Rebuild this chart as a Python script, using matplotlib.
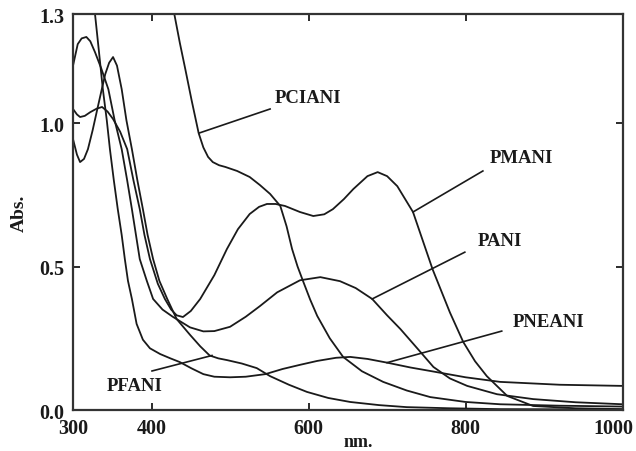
import numpy as np
import matplotlib
matplotlib.use("Agg")
import matplotlib.pyplot as plt
import matplotlib.transforms as mtransforms

# UV-vis spectra (wavelength nm, absorbance)
pani_nm = [300, 306, 311, 317, 322, 328, 336, 345, 353, 362, 369, 375, 385, 394, 402, 414,
           427, 449, 466, 480, 500, 520, 538, 560, 589, 615, 640, 660, 681, 700, 717, 740,
           759, 780, 802, 840, 886, 940, 1000]
pani_abs = [1.20, 1.275, 1.295, 1.30, 1.285, 1.247, 1.19, 1.118, 1.01, 0.909, 0.80, 0.70,
            0.526, 0.45, 0.387, 0.35, 0.325, 0.288, 0.274, 0.275, 0.29, 0.325, 0.362, 0.41,
            0.452, 0.463, 0.449, 0.425, 0.387, 0.33, 0.282, 0.21, 0.15, 0.11, 0.084, 0.055,
            0.038, 0.027, 0.02]

pmani_nm = [300, 305, 309, 315, 322, 330, 337, 344, 351, 360, 369, 377, 385, 391, 398, 408,
            417, 425, 432, 440, 450, 462, 480, 496, 510, 525, 537, 547, 558, 570, 589, 606,
            620, 631, 645, 657, 675, 688, 700, 713, 733, 758, 780, 797, 812, 827, 853, 886,
            940, 1000]
pmani_abs = [1.049, 1.03, 1.021, 1.025, 1.038, 1.05, 1.056, 1.04, 1.014, 0.97, 0.909, 0.80,
             0.70, 0.61, 0.526, 0.44, 0.387, 0.35, 0.33, 0.324, 0.345, 0.387, 0.47, 0.561,
             0.63, 0.683, 0.708, 0.718, 0.718, 0.711, 0.69, 0.676, 0.682, 0.70, 0.735, 0.77,
             0.815, 0.829, 0.815, 0.78, 0.69, 0.49, 0.34, 0.237, 0.17, 0.118, 0.049, 0.014,
             0.006, 0.003]

pfani_nm = [300, 305, 309, 314, 319, 325, 331, 336, 341, 346, 351, 356, 362, 368, 375, 382,
            389, 395, 402, 410, 420, 432, 449, 462, 474, 485, 496, 515, 534, 551, 575, 598,
            625, 653, 690, 725, 780, 844, 1000]
pfani_abs = [0.944, 0.89, 0.864, 0.875, 0.909, 0.975, 1.049, 1.11, 1.17, 1.21, 1.23, 1.20,
             1.118, 1.01, 0.909, 0.80, 0.70, 0.61, 0.526, 0.45, 0.387, 0.317, 0.262, 0.222,
             0.19, 0.18, 0.174, 0.162, 0.146, 0.118, 0.088, 0.063, 0.042, 0.028, 0.017, 0.01,
             0.006, 0.003, 0.002]

pneani_nm = [322, 328, 333, 338, 343, 347, 352, 357, 362, 366, 370, 375, 381, 389, 398, 411,
             424, 436, 451, 466, 480, 500, 520, 545, 567, 590, 611, 635, 653, 675, 700, 730,
             755, 800, 844, 920, 1000]
pneani_abs = [1.45, 1.38, 1.25, 1.118, 1.01, 0.909, 0.80, 0.70, 0.61, 0.526, 0.45, 0.387,
              0.30, 0.245, 0.215, 0.195, 0.18, 0.167, 0.145, 0.125, 0.116, 0.114, 0.116,
              0.125, 0.143, 0.158, 0.171, 0.182, 0.185, 0.178, 0.165, 0.148, 0.136, 0.114,
              0.098, 0.088, 0.084]

pclani_nm = [425, 429, 436, 443, 451, 460, 466, 472, 478, 486, 494, 509, 525, 538, 551, 564,
             572, 579, 586, 593, 602, 611, 627, 644, 668, 695, 725, 755, 800, 844, 920, 1000]
pclani_abs = [1.45, 1.38, 1.28, 1.188, 1.08, 0.965, 0.915, 0.882, 0.864, 0.853, 0.847,
              0.833, 0.812, 0.784, 0.753, 0.711, 0.64, 0.561, 0.5, 0.449, 0.385, 0.328, 0.25,
              0.185, 0.135, 0.098, 0.068, 0.045, 0.028, 0.02, 0.015, 0.012]

# annotations: label, point on curve, end of leader, text anchor (left/center)
labels = ["PCIANI", "PMANI", "PANI", "PNEANI", "PFANI"]
leader_from = [(460.5, 0.965), (733, 0.69), (681, 0.387), (700, 0.165), (477, 0.19)]
leader_to = [(551, 1.049), (822, 0.833), (799, 0.55), (846, 0.275), (400.6, 0.136)]
text_at = [(557, 1.09), (831, 0.881), (815, 0.589), (860.5, 0.307), (343, 0.087)]

ytick_vals = [0.0, 0.5, 1.0, 1.38]
ytick_labels = ["0.0", "0.5", "1.0", "1.3"]
xtick_vals = [300, 400, 600, 800, 1000]

serif = ["Liberation Serif", "DejaVu Serif"]
plt.rcParams["font.family"] = serif

fig = plt.figure(figsize=(6.36, 4.52), dpi=100)
ax = fig.add_axes([0.1148, 0.0907, 0.979 - 0.1148, 0.9668 - 0.0907])

ink = "#1a1a1a"
for xs, ys in [(pani_nm, pani_abs), (pmani_nm, pmani_abs), (pfani_nm, pfani_abs),
               (pneani_nm, pneani_abs), (pclani_nm, pclani_abs)]:
    ax.plot(xs, ys, color=ink, lw=1.3, solid_joinstyle="round")

for lab, p0, p1, pt in zip(labels, leader_from, leader_to, text_at):
    ax.plot([p0[0], p1[0]], [p0[1], p1[1]], color=ink, lw=1.2)
    ax.text(pt[0], pt[1], lab, fontsize=13.5, fontweight="bold", ha="left", va="center",
            color=ink)

ax.set_xlim(300, 1000)
ax.set_ylim(0, 1.38)
ax.set_xticks(xtick_vals)
ax.set_yticks(ytick_vals)
ax.set_yticklabels(ytick_labels)
ax.tick_params(direction="in", length=5, width=1.3, top=True, right=True,
               labelsize=14.5, pad=6, colors=ink)
for lab in ax.get_xticklabels() + ax.get_yticklabels():
    lab.set_fontweight("bold")
# the last x label sits at the figure edge; nudge it left so it stays inside
last = ax.get_xticklabels()[-1]
last.set_transform(last.get_transform() +
                   mtransforms.ScaledTranslation(-9 / 100, 0, fig.dpi_scale_trans))
for s in ax.spines.values():
    s.set_linewidth(1.6)
    s.set_color("#333333")

ax.set_xlabel("nm.", fontsize=13, fontweight="bold", color=ink)
ax.set_ylabel("Abs.", fontsize=14, fontweight="bold", color=ink)
ax.xaxis.set_label_coords(0.519, -0.058)
ax.yaxis.set_label_coords(-0.082, 0.5)

fig.savefig("out.png", dpi=100)
